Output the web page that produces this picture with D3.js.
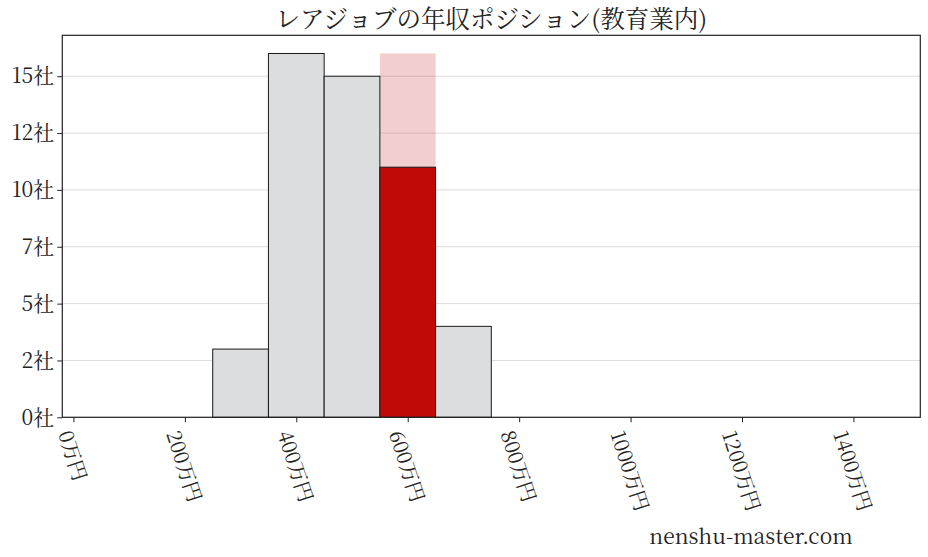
<!DOCTYPE html>
<html>
<head>
<meta charset="utf-8">
<script src="https://cdn.jsdelivr.net/npm/d3@7"></script>
<style>
  body { margin: 0; background: #fff; }
  text { font-family: "Noto Serif CJK JP", "Liberation Serif", "DejaVu Serif", "Noto Sans CJK JP", serif; fill: #222; }
</style>
</head>
<body>
<div id="wrapper"></div>
<script>
// histogram bins (start of each 100万円 bin) and company counts
const binStarts = [250, 350, 450, 550, 650]
const counts = [3, 16, 15, 11, 4]
const binWidth = 100
// bin where the company sits, and the pale band height behind it
const highlightBin = 550
const highlightMax = 16

const xTicks = [0, 200, 400, 600, 800, 1000, 1200, 1400]
const yTicks = [0, 2.5, 5, 7.5, 10, 12.5, 15]
const title = "レアジョブの年収ポジション(教育業内)"
const credit = "nenshu-master.com"

// 1. dimensions
const dimensions = {
    width: 928,
    height: 557,
    margins: { top: 35.3, right: 7.7, bottom: 139.7, left: 62.3 },
}
dimensions.boundedWidth = dimensions.width - dimensions.margins.left - dimensions.margins.right
dimensions.boundedHeight = dimensions.height - dimensions.margins.top - dimensions.margins.bottom

// 2. canvas
const wrapper = d3.select("#wrapper")
    .append("svg")
        .attr("width", dimensions.width)
        .attr("height", dimensions.height)

const bounds = wrapper.append("g")
    .attr("transform", `translate(${dimensions.margins.left},${dimensions.margins.top})`)

// 3. scales
const xScale = d3.scaleLinear()
    .domain([-20, 1520])
    .range([0, dimensions.boundedWidth])

const yScale = d3.scaleLinear()
    .domain([0, 16.8])
    .range([dimensions.boundedHeight, 0])

// 4. gridlines
bounds.append("g")
    .selectAll("line")
    .data(yTicks)
    .enter().append("line")
        .attr("x1", 0)
        .attr("x2", dimensions.boundedWidth)
        .attr("y1", d => yScale(d))
        .attr("y2", d => yScale(d))
        .attr("stroke", "#dcdcdc")
        .attr("stroke-width", 1)

// 5. bars
const bins = binStarts.map((s, i) => ({ start: s, count: counts[i] }))

bounds.append("rect")
    .attr("x", xScale(highlightBin))
    .attr("y", yScale(highlightMax))
    .attr("width", xScale(highlightBin + binWidth) - xScale(highlightBin))
    .attr("height", yScale(0) - yScale(highlightMax))
    .attr("fill", "rgba(192,10,10,0.2)")

bounds.append("g")
    .selectAll("rect")
    .data(bins)
    .enter().append("rect")
        .attr("x", d => xScale(d.start))
        .attr("y", d => yScale(d.count))
        .attr("width", d => xScale(d.start + binWidth) - xScale(d.start))
        .attr("height", d => yScale(0) - yScale(d.count))
        .attr("fill", d => d.start === highlightBin ? "#c00a0a" : "#dcdddf")
        .attr("stroke", "#1a1a1a")
        .attr("stroke-width", 1)

// 6. axes
const yAxis = bounds.append("g")
    .call(d3.axisLeft(yScale)
        .tickValues(yTicks)
        .tickSize(5)
        .tickPadding(3)
        .tickFormat(d => Math.floor(d) + "社"))
yAxis.select(".domain").remove()
yAxis.selectAll(".tick line").attr("stroke", "#222")
yAxis.selectAll(".tick text")
    .attr("font-size", 21)
    .attr("font-family", null)
    .attr("fill", "#222")

const xAxis = bounds.append("g")
    .attr("transform", `translate(0,${dimensions.boundedHeight})`)
    .call(d3.axisBottom(xScale)
        .tickValues(xTicks)
        .tickSize(5)
        .tickFormat(d => d + "万円"))
xAxis.select(".domain").remove()
xAxis.selectAll(".tick line").attr("stroke", "#222")

// rotated tick labels, bbox centred under the tick like matplotlib
xAxis.selectAll(".tick text")
    .attr("font-size", 20)
    .attr("font-family", null)
    .attr("fill", "#222")
    .attr("text-anchor", "start")
    .attr("dy", "0.35em")
    .attr("y", 0)
    .attr("transform", "rotate(72)")
    .each(function() {
        const box = this.getBBox()
        const a = 72 * Math.PI / 180
        const corners = [[box.x, box.y], [box.x + box.width, box.y],
            [box.x, box.y + box.height], [box.x + box.width, box.y + box.height]]
            .map(([px, py]) => [px * Math.cos(a) - py * Math.sin(a), px * Math.sin(a) + py * Math.cos(a)])
        const minX = d3.min(corners, c => c[0]), maxX = d3.max(corners, c => c[0])
        const minY = d3.min(corners, c => c[1])
        const dx = -(minX + maxX) / 2
        const dy = 9 - minY
        d3.select(this).attr("transform", `translate(${dx},${dy}) rotate(72)`)
    })

// frame
bounds.append("rect")
    .attr("width", dimensions.boundedWidth)
    .attr("height", dimensions.boundedHeight)
    .attr("fill", "none")
    .attr("stroke", "#222")
    .attr("stroke-width", 1.2)

// 7. title and credit
wrapper.append("text")
    .attr("x", dimensions.margins.left + dimensions.boundedWidth / 2)
    .attr("y", 28)
    .attr("text-anchor", "middle")
    .attr("font-size", 24.5)
    .text(title)

wrapper.append("text")
    .attr("x", 751)
    .attr("y", 544)
    .attr("text-anchor", "middle")
    .attr("font-size", 21)
    .text(credit)
</script>
</body>
</html>
